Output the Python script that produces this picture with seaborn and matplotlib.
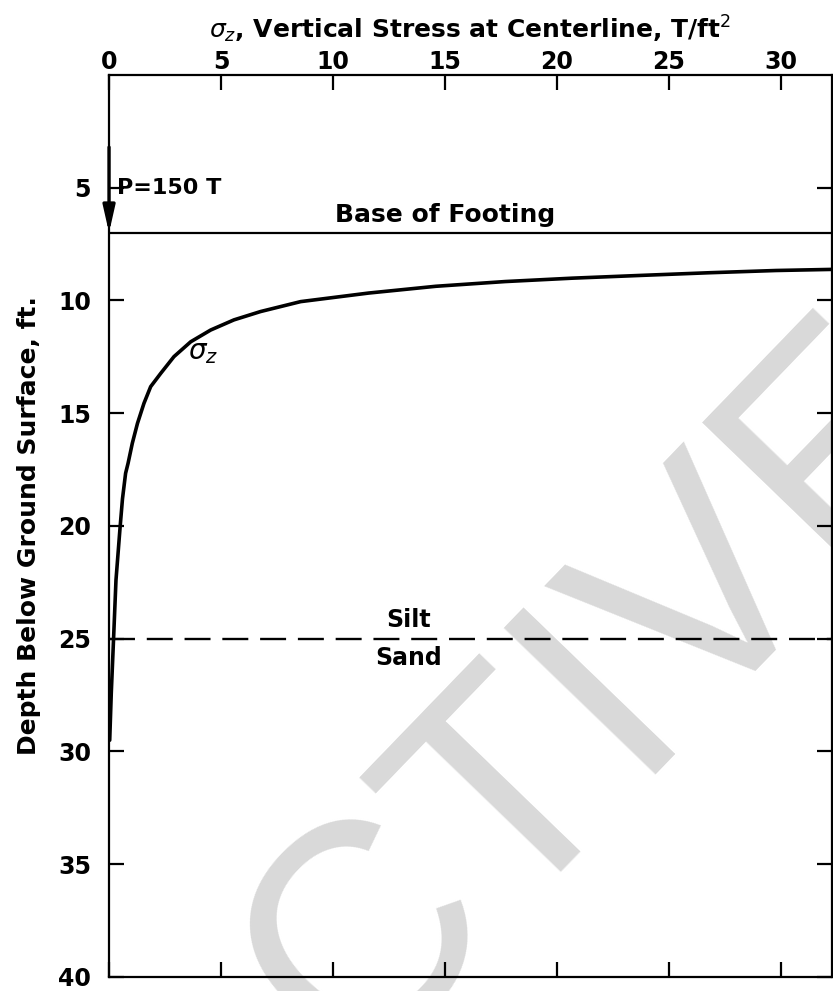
import matplotlib
matplotlib.use("Agg")
import matplotlib.pyplot as plt
import seaborn as sns
import pandas as pd

# ---- data ----
depth_ft = [8.62, 8.67, 8.77, 8.89, 9.01, 9.16, 9.37, 9.67, 10.05, 10.49,
            10.86, 11.31, 11.83, 12.49, 13.23, 13.82, 14.56, 15.45, 16.33,
            17.22, 17.66, 18.8, 20.1, 22.4, 25.05, 27.4, 29.5]
sigma_z = [32.35, 29.8, 26.8, 23.7, 20.7, 17.7, 14.6, 11.6, 8.56, 6.77,
           5.58, 4.54, 3.65, 2.90, 2.31, 1.86, 1.56, 1.27, 1.04,
           0.85, 0.74, 0.6, 0.49, 0.31, 0.2, 0.1, 0.03]
x_ticks = [0, 5, 10, 15, 20, 25, 30]
y_ticks = [5, 10, 15, 20, 25, 30, 35, 40]
footing_depth = 7
layer_depth = 25
load_arrow_top = 3.2
load_label = "P=150 T"

sns.set_theme(style="white")
plt.rcParams["font.family"] = ["DejaVu Sans"]
plt.rcParams["mathtext.fontset"] = "dejavusans"
plt.rcParams["text.color"] = "black"
plt.rcParams["axes.labelcolor"] = "black"

fig = plt.figure(figsize=(8.33, 9.91), dpi=100)
ax = fig.add_axes([0.1309, 0.01413, 0.8679, 0.9102])

df = pd.DataFrame({"sigma": sigma_z, "depth": depth_ft})
sns.lineplot(data=df, x="sigma", y="depth", sort=False, estimator=None,
             color="black", linewidth=2.6, ax=ax, zorder=3)

ax.axhline(footing_depth, color="black", linewidth=1.6, zorder=2)
ax.axhline(layer_depth, color="black", linewidth=1.7, dashes=(11, 5), zorder=2)

ax.annotate("", xy=(0, footing_depth), xytext=(0, load_arrow_top),
            arrowprops=dict(arrowstyle="-|>,head_length=0.8,head_width=0.18",
                            color="black", lw=2.4,
                            mutation_scale=20, shrinkA=0, shrinkB=0),
            zorder=4, annotation_clip=False)

ax.set_xlim(0, 32.3)
ax.set_ylim(40, 0)
ax.set_xticks(x_ticks)
ax.set_yticks(y_ticks)
ax.set_xticklabels([str(t) for t in x_ticks], fontweight="bold")
ax.set_yticklabels([str(t) for t in y_ticks], fontweight="bold")
ax.xaxis.set_ticks_position("both")
ax.yaxis.set_ticks_position("both")
ax.tick_params(axis="x", which="both", direction="in", length=11, width=1.6,
               top=True, bottom=True, labeltop=True, labelbottom=False,
               labelsize=17, pad=1, colors="black")
ax.tick_params(axis="y", which="both", direction="in", length=11, width=1.6,
               left=True, right=True, labelleft=True, labelright=False,
               labelsize=17, pad=13, colors="black")
for sp in ax.spines.values():
    sp.set_color("black")
    sp.set_linewidth(1.6)
    sp.set_visible(True)

ax.xaxis.set_label_position("top")
ax.set_xlabel(r"$\sigma_z$, Vertical Stress at Centerline, T/ft$^2$",
              fontsize=18, fontweight="bold", labelpad=8)
ax.set_ylabel("Depth Below Ground Surface, ft.", fontsize=18,
              fontweight="bold", labelpad=12)

ax.text(0.35, 5.0, load_label, fontsize=16, fontweight="bold",
        ha="left", va="center", zorder=5)
ax.text(15.0, 6.75, "Base of Footing", fontsize=18, fontweight="bold",
        ha="center", va="bottom", zorder=5)
ax.text(13.4, 24.7, "Silt", fontsize=17, fontweight="bold",
        ha="center", va="bottom", zorder=5)
ax.text(13.4, 25.3, "Sand", fontsize=17, fontweight="bold",
        ha="center", va="top", zorder=5)
ax.text(4.2, 12.3, r"$\sigma_z$", fontsize=20, ha="center", va="center",
        zorder=5)

# light grey watermark behind the drawing
fig.text(605 / 833, 1 - 697 / 991, "CTIVE", fontsize=220, color="#d9d9d9",
         family="Liberation Sans", rotation=46, rotation_mode="anchor",
         ha="center", va="center", zorder=-1)
ax.set_facecolor("none")
ax.set_zorder(1)

fig.savefig("out.png", dpi=100, facecolor="white")
